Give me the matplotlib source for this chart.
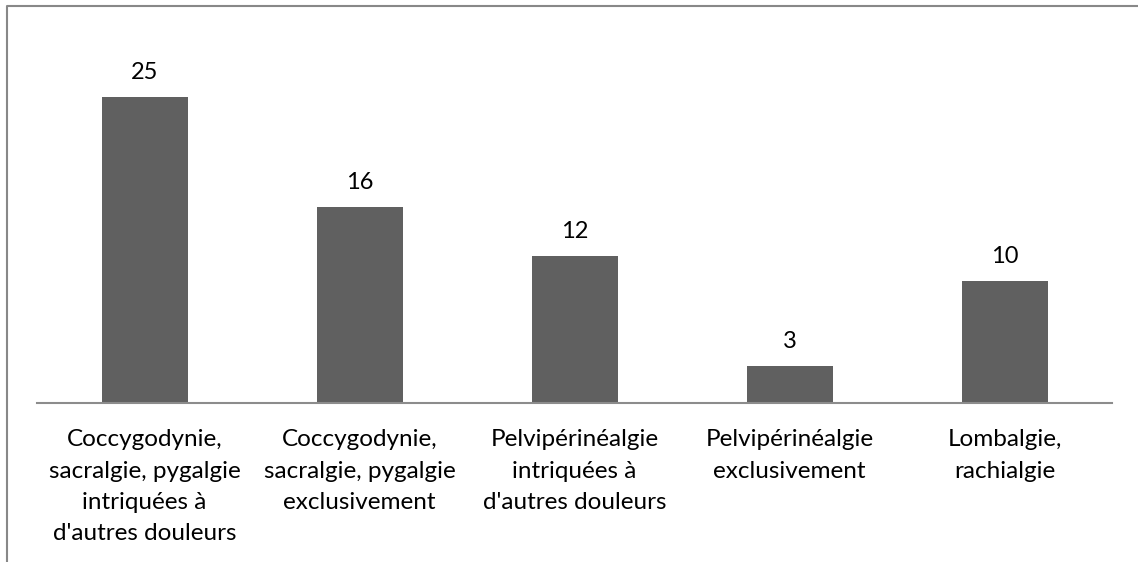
import matplotlib.pyplot as plt
from matplotlib.lines import Line2D

categories = [
    "Coccygodynie,\nsacralgie, pygalgie\nintriquées à\nd'autres douleurs",
    "Coccygodynie,\nsacralgie, pygalgie\nexclusivement",
    "Pelvipérinéalgie\nintriquées à\nd'autres douleurs",
    "Pelvipérinéalgie\nexclusivement",
    "Lombalgie,\nrachialgie",
]
values = [25, 16, 12, 3, 10]

plt.rcParams['font.family'] = ['Lato', 'DejaVu Sans']

fig = plt.figure(figsize=(11.38, 5.62), dpi=100)
ax = fig.add_axes([37 / 1138, 159 / 562, 1075 / 1138, 367 / 562])

x = range(len(values))
bars = ax.bar(x, values, width=0.4, color='#606060')
for i, v in enumerate(values):
    ax.annotate(str(v), (i, v), xytext=(0, 13), textcoords='offset points',
                ha='center', va='baseline', fontsize=17)

ax.set_xlim(-0.5, 4.5)
ax.set_ylim(0, 30)
ax.set_xticks(list(x))
ax.set_xticklabels(categories, fontsize=17.5, linespacing=1.6)
ax.tick_params(axis='x', length=0, pad=19)
ax.set_yticks([])
for s in ['top', 'right', 'left']:
    ax.spines[s].set_visible(False)
ax.spines['bottom'].set_color('#8c8c8c')
ax.spines['bottom'].set_linewidth(1.5)

# outer frame (top and left only)
fig.add_artist(Line2D([7 / 1138, 7 / 1138, 1.0], [0.0, 1 - 6 / 562, 1 - 6 / 562],
                      transform=fig.transFigure, color='#888888', lw=1.5))

fig.savefig('out.png', dpi=100)
